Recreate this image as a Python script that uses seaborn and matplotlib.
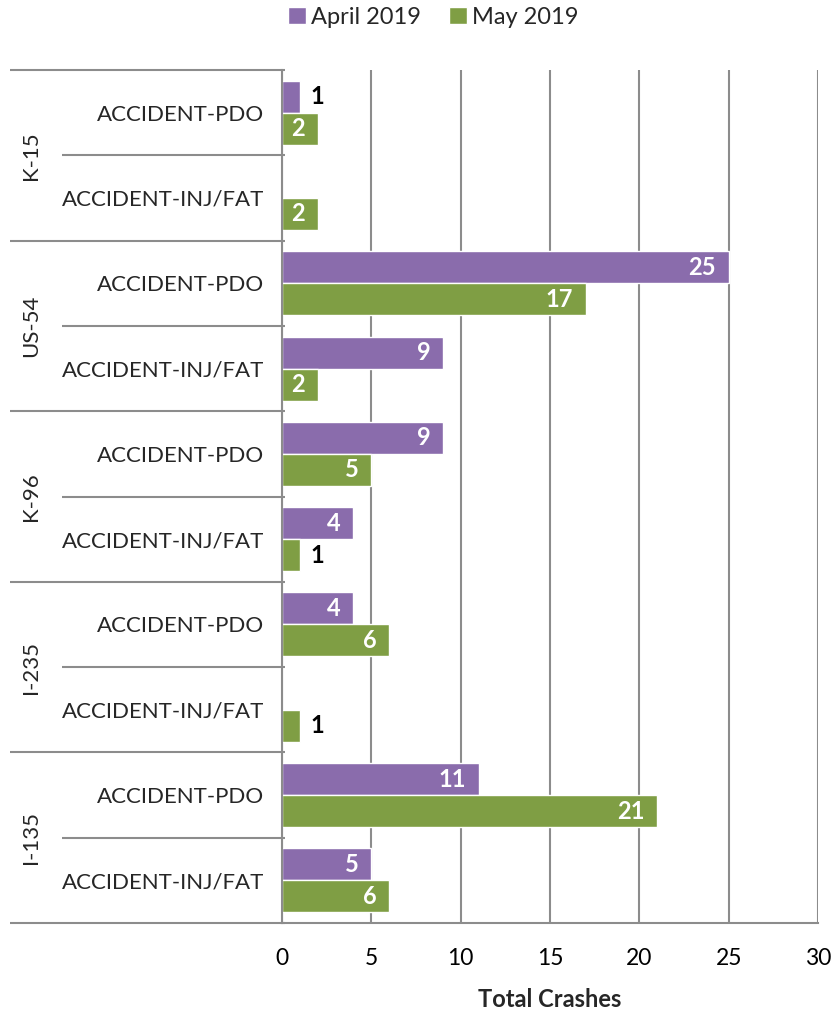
import numpy as np
import pandas as pd
import seaborn as sns
import matplotlib
matplotlib.use('Agg')
import matplotlib.pyplot as plt
from matplotlib.patches import Patch
from matplotlib.transforms import blended_transform_factory

# === data ===
groups = ['K-15', 'US-54', 'K-96', 'I-235', 'I-135']
types = ['ACCIDENT-PDO', 'ACCIDENT-INJ/FAT']
months = ['April 2019', 'May 2019']
april = [1, np.nan, 25, 9, 9, 4, 4, np.nan, 11, 5]
may = [2, 2, 17, 2, 5, 1, 6, 1, 21, 6]
colors = {'April 2019': '#8A6CAC', 'May 2019': '#7F9E44'}
GRAY = '#8C8C8C'

rows = []
keys = []
for i, g in enumerate(groups):
    for j, t in enumerate(types):
        k = f'{g}|{t}'
        keys.append(k)
        idx = i * 2 + j
        rows.append({'row': k, 'month': months[0], 'crashes': april[idx]})
        rows.append({'row': k, 'month': months[1], 'crashes': may[idx]})
df = pd.DataFrame(rows)

sns.set_style('white')
plt.rcParams['font.family'] = ['Lato', 'DejaVu Sans']
FS = 16

fig = plt.figure(figsize=(8.33, 10.11), dpi=100)
ax = fig.add_axes([282 / 833, 1 - 923 / 1011, 536 / 833, 853 / 1011])

sns.barplot(data=df, y='row', x='crashes', hue='month', order=keys,
            hue_order=months, palette=colors, orient='h', width=0.75,
            saturation=1, ax=ax, legend=False)

ax.set_xlim(0, 30)
ax.set_ylim(len(keys) - 0.5, -0.5)
ax.set_xticks(range(0, 31, 5))
ax.grid(axis='x', color=GRAY, lw=1.5)
ax.grid(axis='y', visible=False)
ax.set_axisbelow(True)
for s in ['top', 'right']:
    ax.spines[s].set_visible(False)
for s in ['left', 'bottom']:
    ax.spines[s].set_color(GRAY)
    ax.spines[s].set_linewidth(1.5)

ax.tick_params(axis='x', direction='out', length=6, width=1.5, color=GRAY,
               labelsize=16.5, pad=12, labelcolor='black')
ax.tick_params(axis='y', length=0, labelsize=FS, pad=13)
ax.set_yticks(range(len(keys)))
ax.set_yticklabels([k.split('|')[1] for k in keys])
ax.set_ylabel('')
ax.set_xlabel('Total Crashes', fontsize=17, fontweight='bold', labelpad=14)

# two-level category axis lines and group names
trans = blended_transform_factory(ax.transAxes, ax.transData)
x_outer = (10 - 282) / 536
x_inner = (62 - 282) / 536
for i in range(len(groups) + 1):
    y = 2 * i - 0.5
    ax.plot([x_outer, 0.005], [y, y], transform=trans, color=GRAY, lw=1.5,
            clip_on=False, solid_capstyle='butt')
for i, g in enumerate(groups):
    y = 2 * i + 0.5
    ax.plot([x_inner, 0.005], [y, y], transform=trans, color=GRAY, lw=1.5,
            clip_on=False, solid_capstyle='butt')
    ax.text((31 - 282) / 536, 2 * i + 0.5, g, transform=trans, rotation=90,
            ha='center', va='center', fontsize=FS)

# value labels
for cont in ax.containers:
    for bar in cont:
        w = bar.get_width()
        if np.isnan(w) or w == 0:
            continue
        yc = bar.get_y() + bar.get_height() / 2
        if w >= 2:
            ax.annotate(f'{w:g}', (w, yc), xytext=(-9, 0), textcoords='offset points',
                        ha='right', va='center', color='white', fontsize=17,
                        fontweight='bold')
        else:
            ax.annotate(f'{w:g}', (w, yc), xytext=(8, 0), textcoords='offset points',
                        ha='left', va='center', color='black', fontsize=17,
                        fontweight='bold')

handles = [Patch(facecolor=colors[m], label=m) for m in months]
fig.legend(handles=handles, loc='center', bbox_to_anchor=(0.52, 1 - 17 / 1011),
           ncol=2, frameon=False, fontsize=17, handlelength=0.75,
           handleheight=0.75, handletextpad=0.2, columnspacing=1.2)

fig.savefig('out.png', dpi=100)
